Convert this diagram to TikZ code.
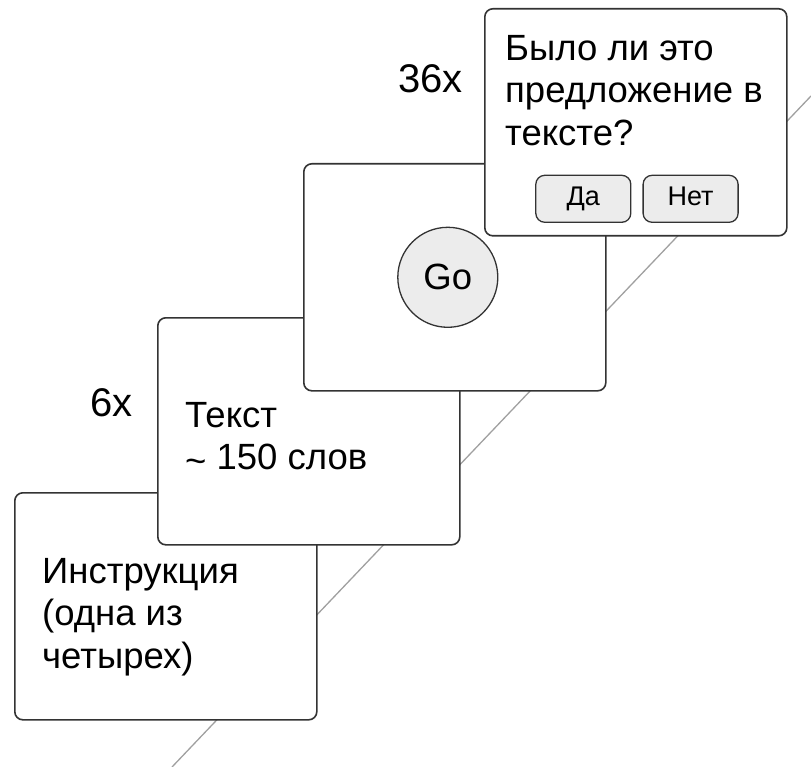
\documentclass[tikz,border=0pt]{standalone}
\usepackage{fontspec}
\setmainfont{Liberation Sans}
\usetikzlibrary{positioning}
\definecolor{edge}{HTML}{333333}
\definecolor{btnfill}{HTML}{ECECEC}
\definecolor{axis}{HTML}{A0A0A0}
\tikzset{
  screen/.style={draw=edge, line width=1.6pt, fill=white, rounded corners=8pt,
    minimum width=302pt, minimum height=227pt, inner sep=0pt, anchor=north west},
  screentext/.style={align=left, inner sep=0pt, anchor=north west,
    font=\fontsize{36.5}{42.5}\selectfont},
  reps/.style={inner sep=0pt, anchor=base east, font=\fontsize{40}{40}\selectfont},
  answer/.style={draw=edge, line width=1.3pt, fill=btnfill, rounded corners=9pt,
    minimum width=95pt, minimum height=47pt, inner sep=0pt,
    text height=19pt, text depth=5pt, font=\fontsize{27}{27}\selectfont},
  gobutton/.style={circle, draw=edge, line width=1.3pt, fill=btnfill,
    minimum size=100pt, inner sep=0pt, font=\fontsize{36.5}{36.5}\selectfont},
  timeline/.style={draw=axis, line width=1.3pt}
}
\begin{document}
\begin{tikzpicture}[x=1pt, y=-1pt]
\useasboundingbox (0,0) rectangle (811,767);
% time axis, behind the screens
\coordinate (tstart) at (172,767);
\coordinate (tend) at (811,96);
\draw[timeline] (tstart) -- (tend);
% screens, back to front
\node[screen] (instr) at (14,492) {};
\node[screen] (text) at (157,317) {};
\node[screen] (go) at (303,163) {};
\node[screen] (question) at (484,8) {};
% contents
\node[screentext] (instrtext) at ([shift={(28,66)}]instr.north west) {Инструкция\\(одна из\\четырех)};
\node[screentext] (texttext) at ([shift={(28,85)}]text.north west) {Текст\\\raisebox{-4pt}{\textasciitilde}\ 150 слов};
\node[gobutton] (gobtn) at ([xshift=-7pt]go.center) {Go};
\node[screentext] (qtext) at ([shift={(21,27)}]question.north west) {Было ли это\\предложение в\\тексте?};
\node[answer] (yes) at ([shift={(-52.5,76.5)}]question.center) {Да};
\node[answer, right=11pt of yes] (no) {Нет};
% repetitions
\node[reps] (six) at ([shift={(-24,99)}]text.north west) {6x};
\node[reps] (thirtysix) at ([shift={(-21,85)}]question.north west) {36x};
\end{tikzpicture}
\end{document}
